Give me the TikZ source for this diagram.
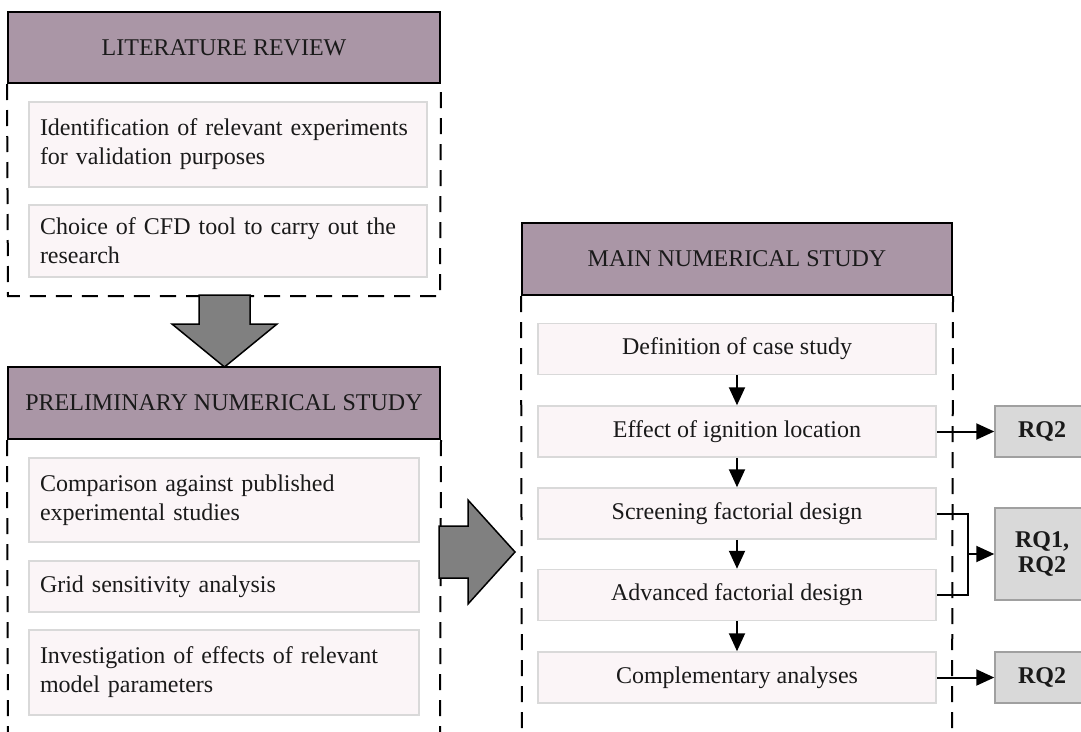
\documentclass[tikz,border=0pt]{standalone}
\usepackage{fontspec}
\setmainfont{Liberation Serif}
\usetikzlibrary{arrows.meta}

\definecolor{headfill}{RGB}{170,150,166}
\definecolor{itemfill}{RGB}{251,245,247}
\definecolor{itemline}{RGB}{217,217,217}
\definecolor{rqfill}{RGB}{217,217,217}
\definecolor{rqline}{RGB}{160,160,160}
\definecolor{bigarrow}{RGB}{128,128,128}
\definecolor{ink}{RGB}{26,26,26}

\begin{document}
\begin{tikzpicture}[x=1pt,y=-1pt,
  every node/.style={font=\fontsize{24}{29}\selectfont, text=ink},
  header/.style={draw=black, line width=2pt, fill=headfill, inner sep=0pt,
    minimum height=71pt},
  itembox/.style={draw=itemline, line width=1.5pt, fill=itemfill,
    inner xsep=11pt, inner ysep=0pt, align=left},
  stepbox/.style={draw=itemline, line width=1.5pt, fill=itemfill,
    inner sep=0pt, minimum width=398pt, minimum height=51pt},
  rqbox/.style={draw=rqline, line width=1.5pt, fill=rqfill, inner sep=0pt,
    minimum width=94pt, font=\fontsize{24}{25}\selectfont\bfseries, align=center},
  frame/.style={line width=2pt, dash pattern=on 16pt off 10pt},
  flow/.style={line width=2pt, -{Triangle[length=18pt,width=16pt]}},
  link/.style={line width=2pt},
  bigarr/.style={draw=black, line width=1.5pt, fill=bigarrow, line join=miter}
]
\useasboundingbox (0,0) rectangle (1081,731);
\begin{scope}
\clip (0,0) rectangle (1081,731);

% ---- left column: literature review ----
\node[header, minimum width=432pt] (lh) at (224,47.5) {LITERATURE REVIEW};
\draw[frame] (lh.south west) -- (8,296) -- (440,296) -- (lh.south east);
\node[itembox, text width=376pt, minimum height=85pt] (l1) at (228,144.5)
  {Identification of relevant experiments\\for validation purposes};
\node[itembox, text width=376pt, minimum height=72pt] (l2) at (228,241)
  {Choice of CFD tool to carry out the\\research};

% ---- left column: preliminary numerical study ----
\node[header, minimum width=432pt, minimum height=72pt] (ph) at (224,403)
  {PRELIMINARY NUMERICAL STUDY};
\draw[frame] (ph.south west) -- (8,745);
\draw[frame] (ph.south east) -- (440,745);
\node[itembox, text width=368pt, minimum height=84pt] (p1) at (224,500)
  {Comparison against published\\experimental studies};
\node[itembox, text width=368pt, minimum height=51pt] (p2) at (224,586.5)
  {Grid sensitivity analysis};
\node[itembox, text width=368pt, minimum height=85pt] (p3) at (224,672.5)
  {Investigation of effects of relevant\\model parameters};

% ---- big block arrows between the study phases ----
\draw[bigarr] (199,295) -- (250,295) -- (250,324) -- (277,324) -- (224.5,367)
  -- (172,324) -- (199,324) -- cycle;
\draw[bigarr] (439,526) -- (468,526) -- (468,500) -- (515,552) -- (468,604)
  -- (468,578) -- (439,578) -- cycle;

% ---- right column: main numerical study ----
\node[header, minimum width=430pt, minimum height=72pt] (mh) at (737,259)
  {MAIN NUMERICAL STUDY};
\draw[frame] (mh.south west) -- (522,745);
\draw[frame] (mh.south east) -- (952,745);

\node[stepbox] (m1) at (737,349)   {Definition of case study};
\node[stepbox] (m2) at (737,431.5) {Effect of ignition location};
\node[stepbox] (m3) at (737,513.5) {Screening factorial design};
\node[stepbox] (m4) at (737,595)   {Advanced factorial design};
\node[stepbox] (m5) at (737,677.5) {Complementary analyses};

\draw[flow] (m1) -- (m2);
\draw[flow] (m2) -- (m3);
\draw[flow] (m3) -- (m4);
\draw[flow] (m4) -- (m5);

% ---- research questions ----
\node[rqbox, minimum height=51pt] (r1) at (1042,431.5) {RQ2};
\node[rqbox, minimum height=92pt] (r2) at (1042,554) {RQ1,\\RQ2};
\node[rqbox, minimum height=51pt] (r3) at (1042,677.5) {RQ2};

\coordinate (br) at (968,554);
\draw[flow] (m2.east) -- (r1.west);
\draw[link] (m3.east) -| (br) |- (m4.east);
\draw[flow] (br) -- (r2.west);
\draw[flow] (m5.east) -- (r3.west);
\end{scope}
\end{tikzpicture}
\end{document}
